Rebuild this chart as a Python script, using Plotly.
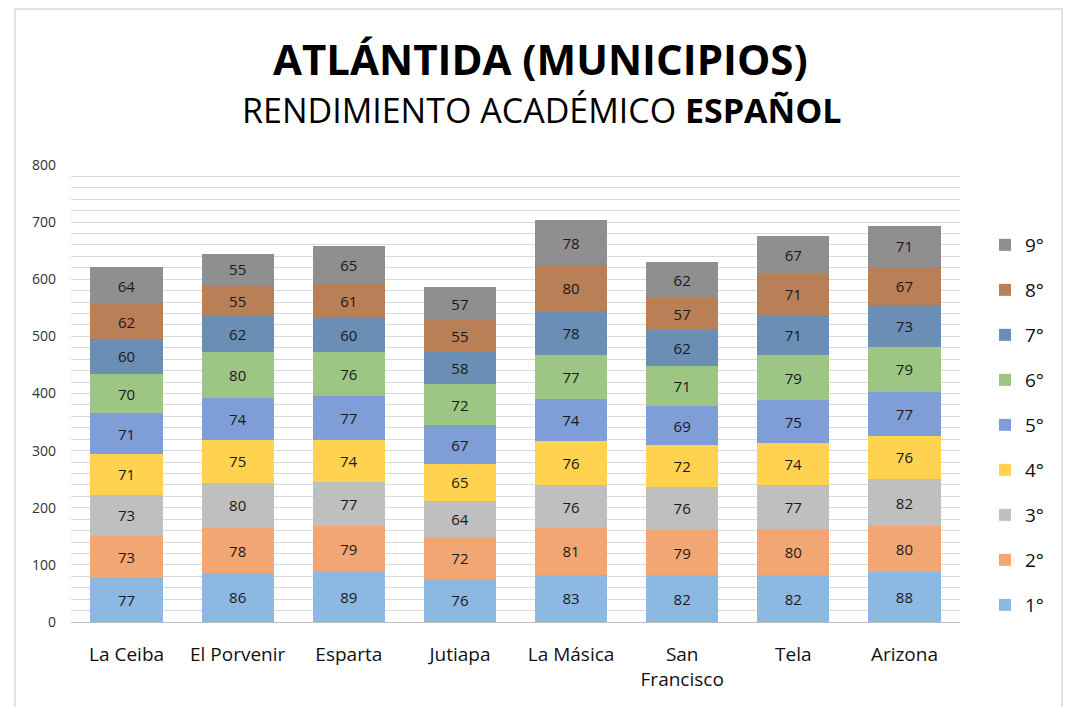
import plotly.graph_objects as go

municipios = ["La Ceiba", "El Porvenir", "Esparta", "Jutiapa", "La Másica", "San<br>Francisco", "Tela", "Arizona"]
grados = ["1°", "2°", "3°", "4°", "5°", "6°", "7°", "8°", "9°"]
g1 = [77, 86, 89, 76, 83, 82, 82, 88]
g2 = [73, 78, 79, 72, 81, 79, 80, 80]
g3 = [73, 80, 77, 64, 76, 76, 77, 82]
g4 = [71, 75, 74, 65, 76, 72, 74, 76]
g5 = [71, 74, 77, 67, 74, 69, 75, 77]
g6 = [70, 80, 76, 72, 77, 71, 79, 79]
g7 = [60, 62, 60, 58, 78, 62, 71, 73]
g8 = [62, 55, 61, 55, 80, 57, 71, 67]
g9 = [64, 55, 65, 57, 78, 62, 67, 71]
series = [g1, g2, g3, g4, g5, g6, g7, g8, g9]
colors = ["#8DB8E2", "#F2A673", "#BFBFBF", "#FFD34F", "#7F9ED8",
          "#9DC584", "#6A8EB4", "#B97F56", "#8F8F8F"]

fig = go.Figure()
n = len(grados)
for i, (name, vals, col) in enumerate(zip(grados, series, colors)):
    fig.add_trace(go.Bar(
        x=municipios, y=vals, name=name, legendgroup=name, legendrank=n - i,
        marker=dict(color=col, line=dict(width=0)),
        text=vals, textposition="inside", insidetextanchor="middle",
        textfont=dict(family="Open Sans", size=15, color="#1a1a1a"),
        constraintext="none",
    ))

W, H = 1072, 707
OFF = 8  # page body margin
ml, mt = 71 - OFF, 165 - OFF
mr, mb = W - (960 - OFF), H - (622 - OFF)
pw, ph = W - ml - mr, H - mt - mb


def px(x):
    return (x - OFF - ml) / pw


def py(y):
    return (H - mb - (y - OFF)) / ph


fig.update_layout(
    width=W, height=H,
    barmode="stack", bargap=0.35,
    plot_bgcolor="white", paper_bgcolor="white",
    margin=dict(l=ml, r=mr, t=mt, b=mb, autoexpand=False),
    font=dict(family="Open Sans", color="#222"),
    showlegend=True,
    legend=dict(
        traceorder="grouped", tracegroupgap=17.3,
        x=px(985), xanchor="left", y=py(226), yanchor="top",
        font=dict(size=19, color="#111"),
        bgcolor="rgba(0,0,0,0)",
    ),
    uniformtext=dict(minsize=15, mode="show"),
    xaxis=dict(
        automargin=False,
        showline=True, linecolor="#bfbfbf", linewidth=1,
        ticks="", tickfont=dict(size=19, color="#111"), ticklabelstandoff=15,
        showgrid=False,
    ),
    yaxis=dict(
        automargin=False,
        range=[0, 800], dtick=100, showgrid=True, gridcolor="#d9d9d9", gridwidth=1,
        minor=dict(dtick=20, showgrid=True, gridcolor="#d9d9d9", gridwidth=1),
        zeroline=False, showline=False, ticks="",
        tickfont=dict(size=14, color="#333"), ticklabelstandoff=14,
    ),
    annotations=[
        dict(text="<b>ATLÁNTIDA (MUNICIPIOS)</b>", x=px(540),
             xref="paper", yref="paper", y=py(59),
             xanchor="center", yanchor="middle", showarrow=False,
             font=dict(family="Open Sans", size=42, color="#000")),
        dict(text="RENDIMIENTO ACADÉMICO <b>ESPAÑOL</b>", x=px(541),
             xref="paper", yref="paper", y=py(110),
             xanchor="center", yanchor="middle", showarrow=False,
             font=dict(family="Open Sans", size=34, color="#000")),
    ],
    shapes=[
        dict(type="rect", xref="paper", yref="paper",
             x0=px(15), x1=px(1062), y0=py(730), y1=py(9),
             line=dict(color="#d9d9d9", width=1.5), fillcolor="rgba(0,0,0,0)", layer="below"),
    ],
)

fig.write_html("out.html")
